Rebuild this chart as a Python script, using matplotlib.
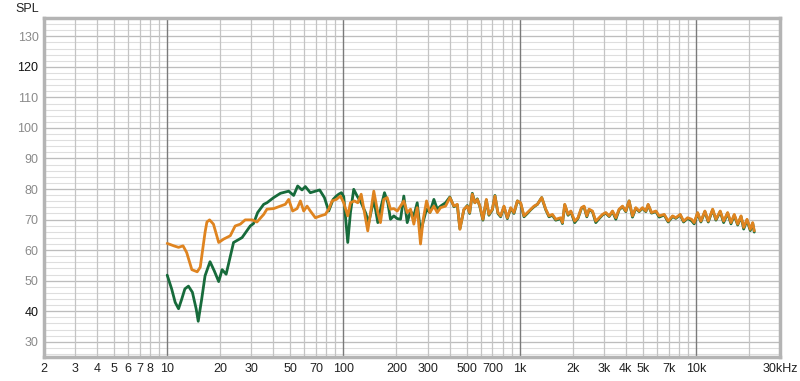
import matplotlib
matplotlib.use("Agg")
import matplotlib.pyplot as plt
from matplotlib.ticker import FixedLocator, NullFormatter

# ---------------- data ----------------
green_freq = [10, 10.6, 11.1, 11.6, 12.1, 12.6, 13.2, 13.9, 14.6, 15.0, 15.7, 16.4, 17.5, 18.5,
              19.6, 20.5, 21.6, 23.8, 26.6, 29.6, 30.9, 32.6, 35.3,
              36.8, 40.2, 43.9, 48.9, 52.2, 55.0, 58.2, 60.8, 64.9, 69.3, 73.3, 78.0, 82.5, 87.4,
              91.2, 94.0, 97.4, 100.4, 105.8, 109.6, 114.4, 119.6, 126.1, 133.4, 139.2, 148.7,
              156.7, 163.8, 171, 178.6, 184.9, 193.2, 202, 210.9, 220.1, 230.1, 240.3, 250.9,
              262.2, 273.8, 285.9, 296.2, 309.3, 326, 340.7, 355.6, 379.7, 401.7, 423.6, 442.6,
              458, 482.5, 504.5, 520, 538.6, 557, 575, 594.7, 618.7, 647, 669.2, 699.8, 723.9,
              752.8, 779.8, 814.6, 851.4, 889.5, 928.2, 970.5, 1013, 1058, 1106, 1155, 1206,
              1261, 1334, 1406, 1467, 1534, 1602, 1710, 1748, 1802, 1882, 1950, 2053, 2143,
              2242, 2318, 2404, 2477, 2588, 2704, 2823, 2951, 3081, 3218, 3364, 3512, 3666,
              3833, 4000, 4178, 4366, 4560, 4764, 4977, 5200, 5358, 5600, 5929, 6187, 6607,
              6962, 7372, 7693, 8147, 8511, 8974, 9453, 9775, 10224, 10670, 11245, 11749,
              12445, 12992, 13741, 14365, 15136, 15812, 16508, 17258, 18030, 18664, 19498,
              20348, 20996, 21435]
green_db = [51.8, 47.3, 42.9, 40.8, 44.0, 47.3, 48.2, 46.2, 40.8, 36.7, 44.0, 51.6, 56.2, 53.2,
            49.7, 53.6, 52.1, 62.5, 64.1, 67.9, 68.7, 72.3, 75.0,
            75.5, 77.2, 78.6, 79.3, 77.9, 81.0, 79.7, 80.8, 78.8, 79.3, 79.7, 77.2, 72.8, 76.6,
            77.7, 78.3, 78.8, 77.5, 62.5, 72.3, 79.9, 77.7, 75.5, 72.3, 69.0, 76.6,
            69.0, 74.4, 78.8, 75.5, 70.1, 71.2, 70.3, 70.1, 77.7, 69.0, 72.8, 71.2,
            75.5, 65.8, 70.1, 73.4, 72.3, 76.6, 73.4, 74.4, 75.5, 77.4, 74.2, 74.8,
            67.0, 73.2, 74.6, 72.0, 78.6, 75.5, 76.8, 74.2, 69.8, 76.4, 71.4, 73.2,
            77.9, 72.0, 70.9, 74.2, 70.3, 73.7, 72.0, 76.1, 75.3, 70.9, 72.0, 73.2,
            74.2, 75.0, 77.2, 73.2, 70.9, 71.4, 69.8, 70.3, 68.7, 74.8, 71.4, 72.6,
            69.0, 70.4, 73.7, 74.2, 70.9, 73.2, 72.6, 69.0, 70.3, 71.5, 72.1, 71.0,
            72.6, 70.1, 73.2, 74.2, 72.6, 76.1, 70.8, 73.7, 72.6, 73.7, 72.6, 74.8,
            72.1, 72.6, 70.8, 71.5, 69.2, 71.0, 70.4, 71.5, 69.2, 70.4, 69.6, 68.6,
            72.1, 69.2, 72.6, 69.2, 73.2, 69.8, 72.6, 69.0, 72.1, 68.6, 71.4, 68.2,
            71.0, 66.9, 69.8, 66.4, 68.8, 65.9]

orange_freq = [10, 10.9, 11.6, 12.3, 12.9, 13.8, 14.8, 15.4, 16.4, 16.8, 17.4, 18.3, 19.1, 19.6,
               20.9, 22.8,
               24.3, 26.0, 27.7, 30.3, 32.3, 35.3, 36.8, 40.2, 43.9, 46.8, 48.9, 51.5, 54.6,
               57.0, 59.5, 62.2, 64.9, 69.3, 74.0, 79.0, 82.5, 86.2, 91.2, 96.1, 100.4, 105.8,
               109.6, 115.5, 120.6, 126.1, 131.6, 137.4, 143.6, 148.7, 156.7, 162.2, 169.4,
               177.1, 184.9, 193.2, 202, 210.9, 220.1, 230.1, 240.3, 250.9, 262.2, 273.8,
               283.6, 296.2, 309.3, 326, 340.7, 355.6, 379.7, 401.7, 423.6, 442.6,
               458, 482.5, 504.5, 520, 538.6, 557, 575, 594.7, 618.7, 647, 669.2, 699.8, 723.9,
               752.8, 779.8, 814.6, 851.4, 889.5, 928.2, 970.5, 1013, 1058, 1106, 1155, 1206,
               1261, 1334, 1406, 1467, 1534, 1602, 1710, 1748, 1802, 1882, 1950, 2053, 2143,
               2242, 2318, 2404, 2477, 2588, 2704, 2823, 2951, 3081, 3218, 3364, 3512, 3666,
               3833, 4000, 4178, 4366, 4560, 4764, 4977, 5200, 5358, 5600, 5929, 6187, 6607,
               6962, 7372, 7693, 8147, 8511, 8974, 9453, 9775, 10224, 10670, 11245, 11749,
               12445, 12992, 13741, 14365, 15136, 15812, 16508, 17258, 18030, 18664, 19498,
               20348, 20996, 21435]
orange_db = [62.2, 61.4, 60.9, 61.4, 59.2, 53.6, 52.9, 54.4, 65.8, 69.2, 69.9, 68.5, 64.7, 62.5,
             63.6, 64.7,
             67.9, 68.5, 69.9, 69.9, 69.2, 71.7, 73.4, 73.6, 74.4, 75.0, 76.6, 72.8, 73.6,
             76.1, 72.8, 74.4, 72.8, 70.6, 71.2, 71.7, 73.4, 76.1, 76.6, 77.7, 75.5, 71.2,
             75.5, 76.1, 75.5, 78.3, 72.3, 66.3, 73.4, 79.3, 72.3, 69.0, 76.6,
             77.2, 73.4, 73.6, 72.8, 74.4, 76.1, 72.3, 73.4, 68.5, 73.9, 62.0,
             70.1, 76.1, 72.3, 74.4, 72.3, 73.9, 74.4, 77.2, 74.4, 75.0,
             66.8, 73.4, 74.4, 72.3, 78.3, 75.5, 76.6, 74.4, 70.1, 76.6, 71.7, 73.4,
             77.7, 72.3, 71.2, 74.4, 70.6, 73.9, 72.3, 76.1, 75.5, 71.2, 72.3, 73.4,
             74.4, 75.0, 77.2, 73.4, 71.2, 71.7, 70.1, 70.6, 69.0, 75.0, 71.7, 72.8,
             69.5, 70.6, 73.9, 74.4, 71.2, 73.4, 72.8, 69.5, 70.6, 71.7, 72.3, 71.2,
             72.8, 70.6, 73.4, 74.4, 72.8, 76.1, 71.2, 73.9, 72.8, 73.9, 72.8, 75.0,
             72.3, 72.8, 71.2, 71.7, 69.5, 71.2, 70.6, 71.7, 69.5, 70.6, 70.1, 69.0,
             72.3, 69.5, 72.8, 69.5, 73.4, 70.1, 72.8, 69.5, 72.3, 69.0, 71.7, 68.5,
             71.2, 67.4, 70.1, 66.8, 69.0, 66.3]

x_tick_vals = [2, 3, 4, 5, 6, 7, 8, 10, 20, 30, 50, 70, 100, 200, 300, 500, 700,
               1000, 2000, 3000, 4000, 5000, 7000, 10000, 30000]
x_tick_labels = ["2", "3", "4", "5", "6", "7", "8", "10", "20", "30", "50", "70", "100",
                 "200", "300", "500", "700", "1k", "2k", "3k", "4k", "5k", "7k", "10k", "30kHz"]
y_tick_vals = [30, 40, 50, 60, 70, 80, 90, 100, 110, 120, 130]

# ---------------- figure ----------------
plt.rcParams['font.family'] = ['Liberation Sans', 'DejaVu Sans']
fig = plt.figure(figsize=(8.0, 3.81), dpi=100)
fig.patch.set_facecolor('white')
ax = fig.add_axes([44/800, 1 - 357/381, (780-44)/800, (357-18)/381])
ax.set_xscale('log')
ax.set_xlim(2, 30000)
ax.set_ylim(25, 136)

# grid lines (horizontal first, then vertical on top)
for y in range(26, 136, 2):
    ax.axhline(y, color='#dedede', lw=0.8, zorder=0.1)
for y in y_tick_vals:
    ax.axhline(y, color='#bdbdbd', lw=0.9, zorder=0.2)
minor_v = [m * 10**d for d in range(0, 5) for m in range(2, 10)]
minor_v = [v for v in minor_v if 2 <= v <= 30000]
for v in minor_v:
    ax.axvline(v, color='#c4c4c4', lw=0.9, zorder=0.3)
for v in [10, 100, 1000, 10000]:
    ax.axvline(v, color='#7a7a7a', lw=1.0, zorder=0.4)

ax.plot(green_freq, green_db, color='#176b3b', lw=2.0, zorder=3,
        solid_joinstyle='round', solid_capstyle='round')
ax.plot(orange_freq, orange_db, color='#df8420', lw=2.0, zorder=4,
        solid_joinstyle='round', solid_capstyle='round')

ax.xaxis.set_major_locator(FixedLocator(x_tick_vals))
ax.xaxis.set_minor_formatter(NullFormatter())
ax.xaxis.set_minor_locator(FixedLocator([]))
ax.set_xticklabels(x_tick_labels)
ax.set_yticks(y_tick_vals)
ax.tick_params(axis='both', length=0, labelsize=9, pad=4)
ax.tick_params(axis='x', pad=4, colors='#222222')
for lbl in ax.get_yticklabels():
    if lbl.get_text() in ("40", "120"):
        lbl.set_color('#111111')
    else:
        lbl.set_color('#8a8a8a')

for s in ax.spines.values():
    s.set_color('#b4b4b4')
    s.set_linewidth(2.5)

fig.text(15/800, 1 - 9/381, "SPL", fontsize=9, color='#222222', va='center', ha='left')

fig.savefig('out.png', dpi=100)
